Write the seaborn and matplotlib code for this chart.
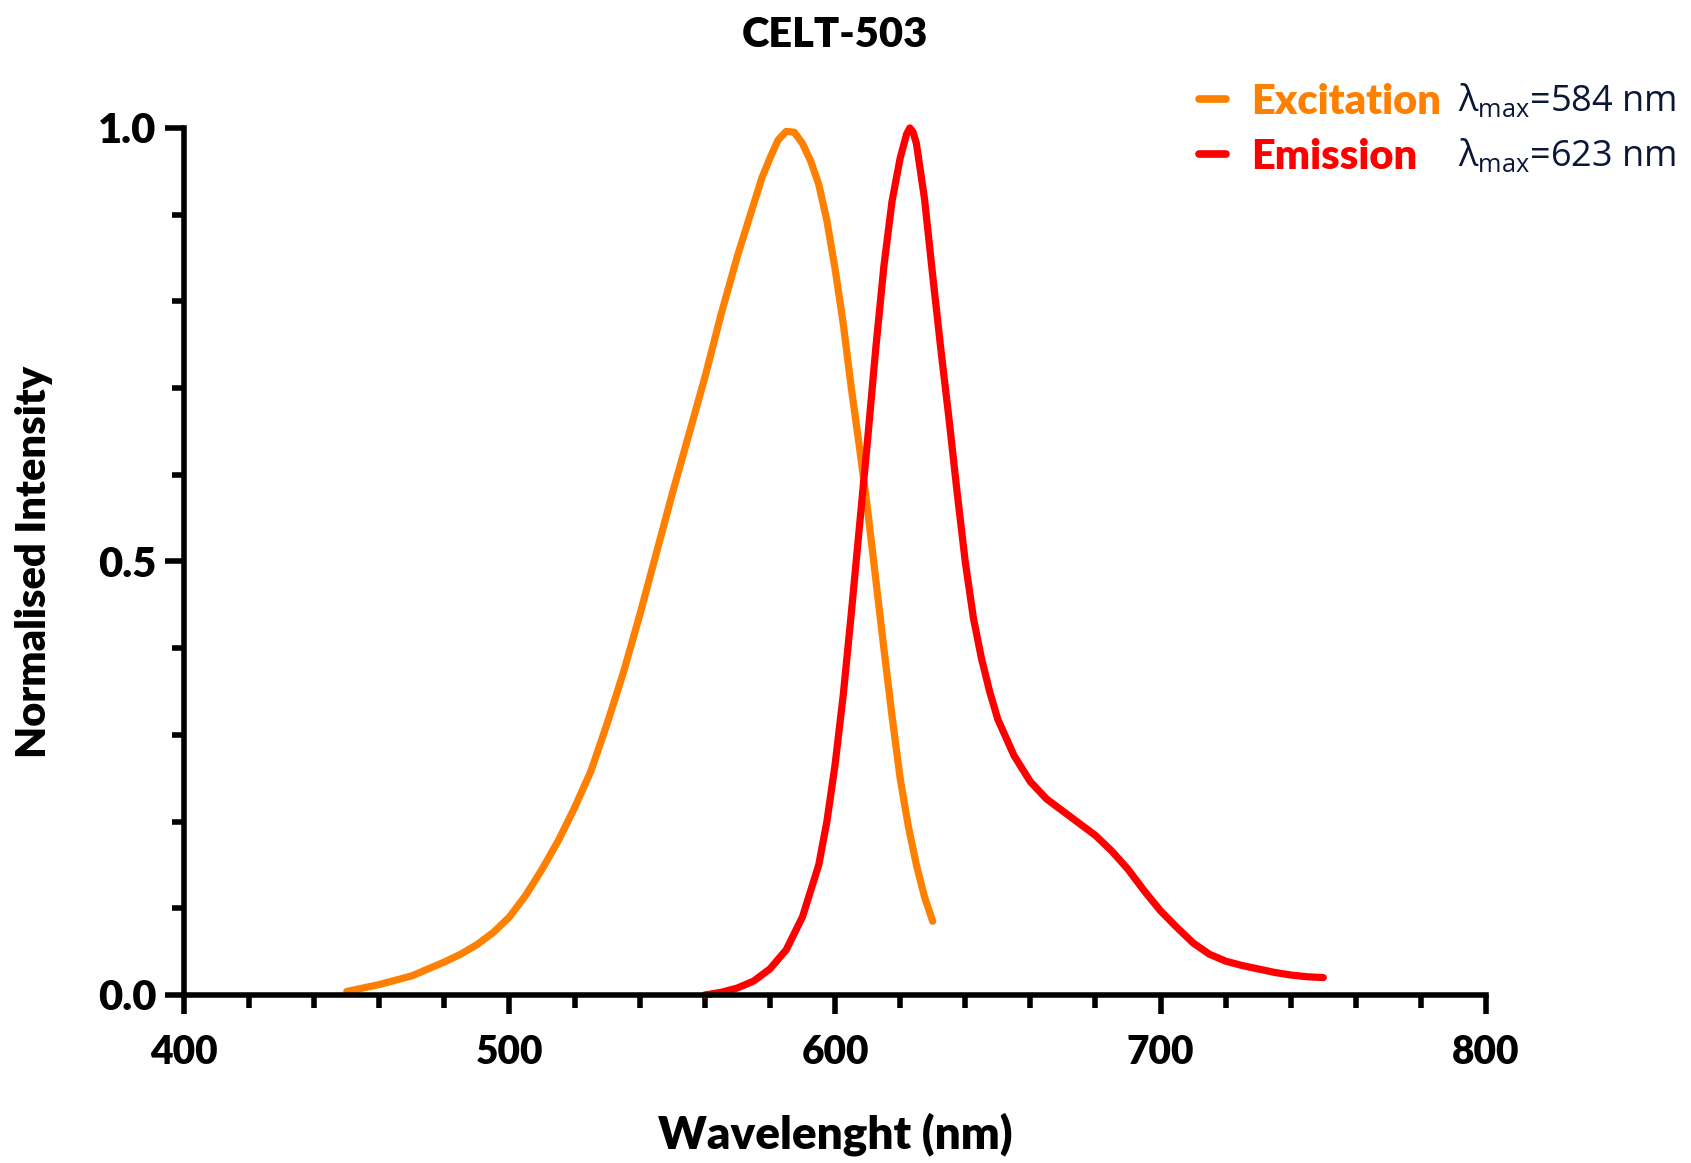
import numpy as np
import pandas as pd
import matplotlib.pyplot as plt
import seaborn as sns
from matplotlib.ticker import MultipleLocator
from matplotlib.lines import Line2D

# Spectra (wavelength in nm, normalised intensity)
excitation_nm = [450, 455, 460, 465, 470, 475, 480, 485, 490, 495, 500, 505,
                 510, 515, 520, 525, 530, 535, 540, 545, 550, 555, 560, 565,
                 570, 575, 577.5, 580, 582.5, 585, 587.5, 590, 592.5, 595, 597.5,
                 600, 602.5, 605, 607.5, 610, 612.5, 615, 617.5, 620, 622.5,
                 625, 627.5, 630]
excitation_int = [0.004, 0.008, 0.012, 0.017, 0.022, 0.030, 0.038, 0.047, 0.058,
                  0.072, 0.090, 0.115, 0.145, 0.178, 0.216, 0.258, 0.313, 0.372,
                  0.438, 0.508, 0.578, 0.645, 0.712, 0.785, 0.852, 0.912, 0.942,
                  0.965, 0.986, 0.996, 0.995, 0.982, 0.962, 0.935, 0.893,
                  0.838, 0.775, 0.700, 0.632, 0.560, 0.480, 0.400, 0.322, 0.250,
                  0.195, 0.150, 0.113, 0.085]

emission_nm = [560, 565, 570, 575, 580, 585, 590, 595, 597.5, 600, 602.5, 605,
               607.5, 610, 612.5, 615, 617.5, 620, 622, 623, 624, 625, 627.5,
               630, 632.5, 635, 637.5, 640, 642.5, 645, 647.5, 650, 655, 660,
               665, 670, 675, 680, 685, 690, 695, 700, 705, 710, 715, 720, 725,
               730, 735, 740, 745, 750]
emission_int = [0.000, 0.003, 0.008, 0.016, 0.030, 0.052, 0.090, 0.150, 0.200,
                0.265, 0.345, 0.440, 0.540, 0.640, 0.745, 0.840, 0.915, 0.965,
                0.993, 1.000, 0.995, 0.982, 0.918, 0.830, 0.745, 0.665, 0.580,
                0.500, 0.435, 0.388, 0.350, 0.318, 0.276, 0.246, 0.226, 0.212,
                0.198, 0.184, 0.166, 0.145, 0.120, 0.097, 0.078, 0.060, 0.047,
                0.039, 0.034, 0.030, 0.026, 0.023, 0.021, 0.020]

series_names = ['Excitation', 'Emission']
series_colors = ['#FF8000', '#FF0000']
lambda_max = [584, 623]

x_ticks = [400, 500, 600, 700, 800]
y_ticks = [0.0, 0.5, 1.0]

sns.set_style('ticks')
plt.rcParams['font.family'] = ['Lato', 'DejaVu Sans']
plt.rcParams['mathtext.fontset'] = 'custom'
plt.rcParams['mathtext.rm'] = 'Open Sans'
plt.rcParams['mathtext.it'] = 'Open Sans'
plt.rcParams['text.color'] = 'black'
plt.rcParams['axes.labelcolor'] = 'black'

fig = plt.figure(figsize=(16.91, 11.63), dpi=100)
ax = fig.add_axes([0.1088, 0.1445, 0.77, 0.7455])

ex_df = pd.DataFrame({'nm': excitation_nm, 'val': excitation_int})
em_df = pd.DataFrame({'nm': emission_nm, 'val': emission_int})
sns.lineplot(data=ex_df, x='nm', y='val', color=series_colors[0], lw=5.2, ax=ax)
sns.lineplot(data=em_df, x='nm', y='val', color=series_colors[1], lw=5.2, ax=ax)
for line in ax.lines:
    line.set_solid_joinstyle('round')
    line.set_clip_on(False)

ax.set_xlim(400, 800)
ax.set_ylim(0, 1.0)
ax.set_xticks(x_ticks)
ax.set_yticks(y_ticks)
ax.set_yticklabels([f'{v:.1f}' for v in y_ticks])
ax.xaxis.set_minor_locator(MultipleLocator(20))
ax.yaxis.set_minor_locator(MultipleLocator(0.1))

for side in ['top', 'right']:
    ax.spines[side].set_visible(False)
for side in ['left', 'bottom']:
    ax.spines[side].set_linewidth(4)
    ax.spines[side].set_color('black')

ax.tick_params(which='major', length=14, width=4, color='black',
               labelcolor='black', pad=8)
ax.tick_params(which='minor', length=9, width=4, color='black')
ax.tick_params(axis='x', which='major', labelsize=28, pad=14)
ax.tick_params(axis='y', which='major', labelsize=30, pad=6)
for lbl in ax.get_xticklabels() + ax.get_yticklabels():
    lbl.set_fontweight('heavy')

ax.set_xlabel('Wavelenght (nm)', fontsize=33, fontweight='heavy', labelpad=30)
ax.set_ylabel('Normalised Intensity', fontsize=30, fontweight='heavy', labelpad=32)
ax.set_title('CELT-503', fontsize=30, fontweight='heavy', pad=58, color='black')

handles = [Line2D([0], [0], color=c, lw=5.5) for c in series_colors]
leg = fig.legend(handles, series_names, loc='upper left',
                 bbox_to_anchor=(0.687, 0.961), frameon=False,
                 handlelength=0.65, handletextpad=0.6, labelspacing=0.41,
                 prop={'family': ['Lato', 'DejaVu Sans'], 'weight': 'heavy', 'size': 30})
for txt, c in zip(leg.get_texts(), series_colors):
    txt.set_color(c)

for i, lm in enumerate(lambda_max):
    fig.text(0.862, 0.913 - i * 0.0475, f'λ$_{{\\rm max}}$={lm} nm',
             fontsize=26, fontweight='normal', family='Open Sans',
             color='#0B1736', va='center', ha='left')

fig.savefig('out.png', dpi=100)
